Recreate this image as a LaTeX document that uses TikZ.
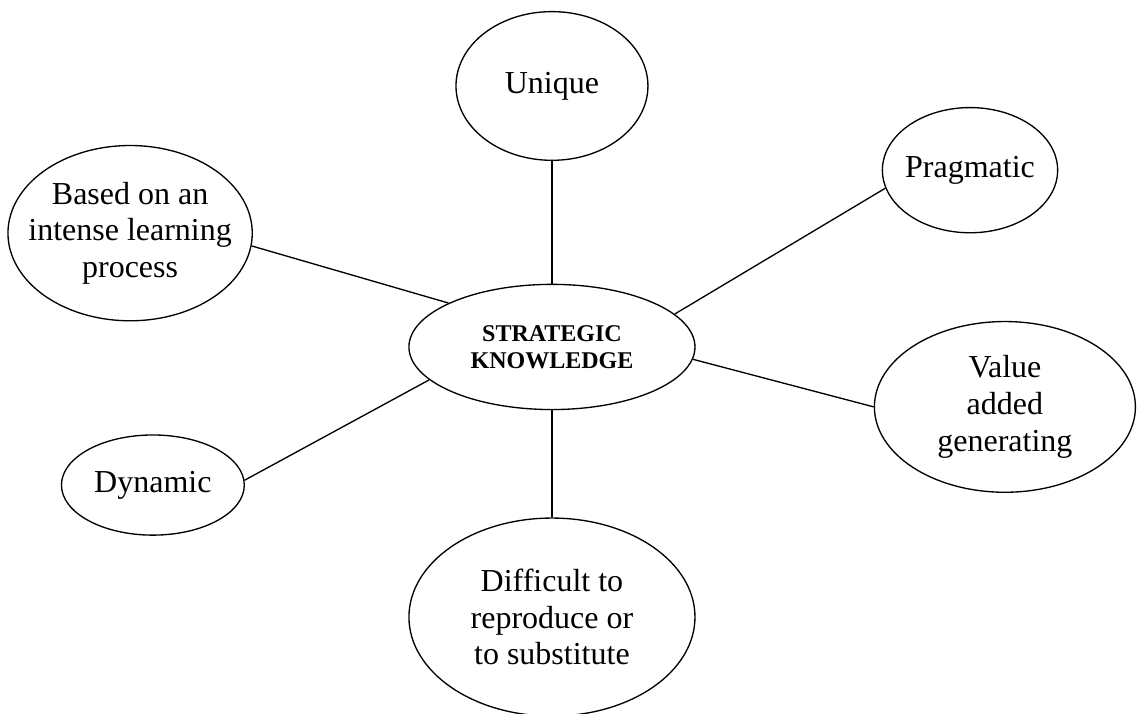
\documentclass[tikz,border=0pt]{standalone}
\usepackage{fontspec}
\setmainfont{Liberation Serif}
\usetikzlibrary{calc}
\usetikzlibrary{shapes.geometric}
\tikzstyle{traitnode} = [draw, ellipse, align=center, inner sep=-8pt, font=\fontsize{12}{13.8}\selectfont]
\tikzstyle{corenode} = [traitnode, font=\bfseries\fontsize{9}{10}\selectfont]

\begin{document}
\begin{tikzpicture}[line width=0.5pt]
\useasboundingbox (-7.275,-4.837) rectangle (7.737,4.573);
\node[corenode, minimum width=3.77cm, minimum height=1.65cm] (sk) at (0,0) {STRATEGIC\\KNOWLEDGE};
\node[traitnode, minimum width=2.53cm, minimum height=1.96cm] (unique) at ($(sk)+(0,3.44)$) {Unique};
\node[traitnode, minimum width=2.31cm, minimum height=1.65cm] (pragmatic) at ($(sk)+(5.51,2.33)$) {Pragmatic};
\node[traitnode, minimum width=3.22cm, minimum height=2.31cm] (learning) at ($(sk)+(-5.56,1.50)$) {Based on an\\intense learning\\process};
\node[traitnode, minimum width=3.44cm, minimum height=2.25cm] (value) at ($(sk)+(5.97,-0.79)$) {Value\\added\\generating};
\node[traitnode, minimum width=2.41cm, minimum height=1.32cm] (dynamic) at ($(sk)+(-5.26,-1.82)$) {Dynamic};
\node[traitnode, minimum width=3.77cm, minimum height=2.61cm] (difficult) at ($(sk)+(0,-3.56)$) {Difficult to\\reproduce or\\to substitute};
\draw (sk.north) -- (unique.south);
\draw (sk.15) -- (pragmatic.192);
\draw (sk.157) -- (learning.-6);
\draw (sk.-5) -- (value.180);
\draw (sk.195) -- (dynamic.3);
\draw (sk.south) -- (difficult.north);
\end{tikzpicture}
\end{document}
